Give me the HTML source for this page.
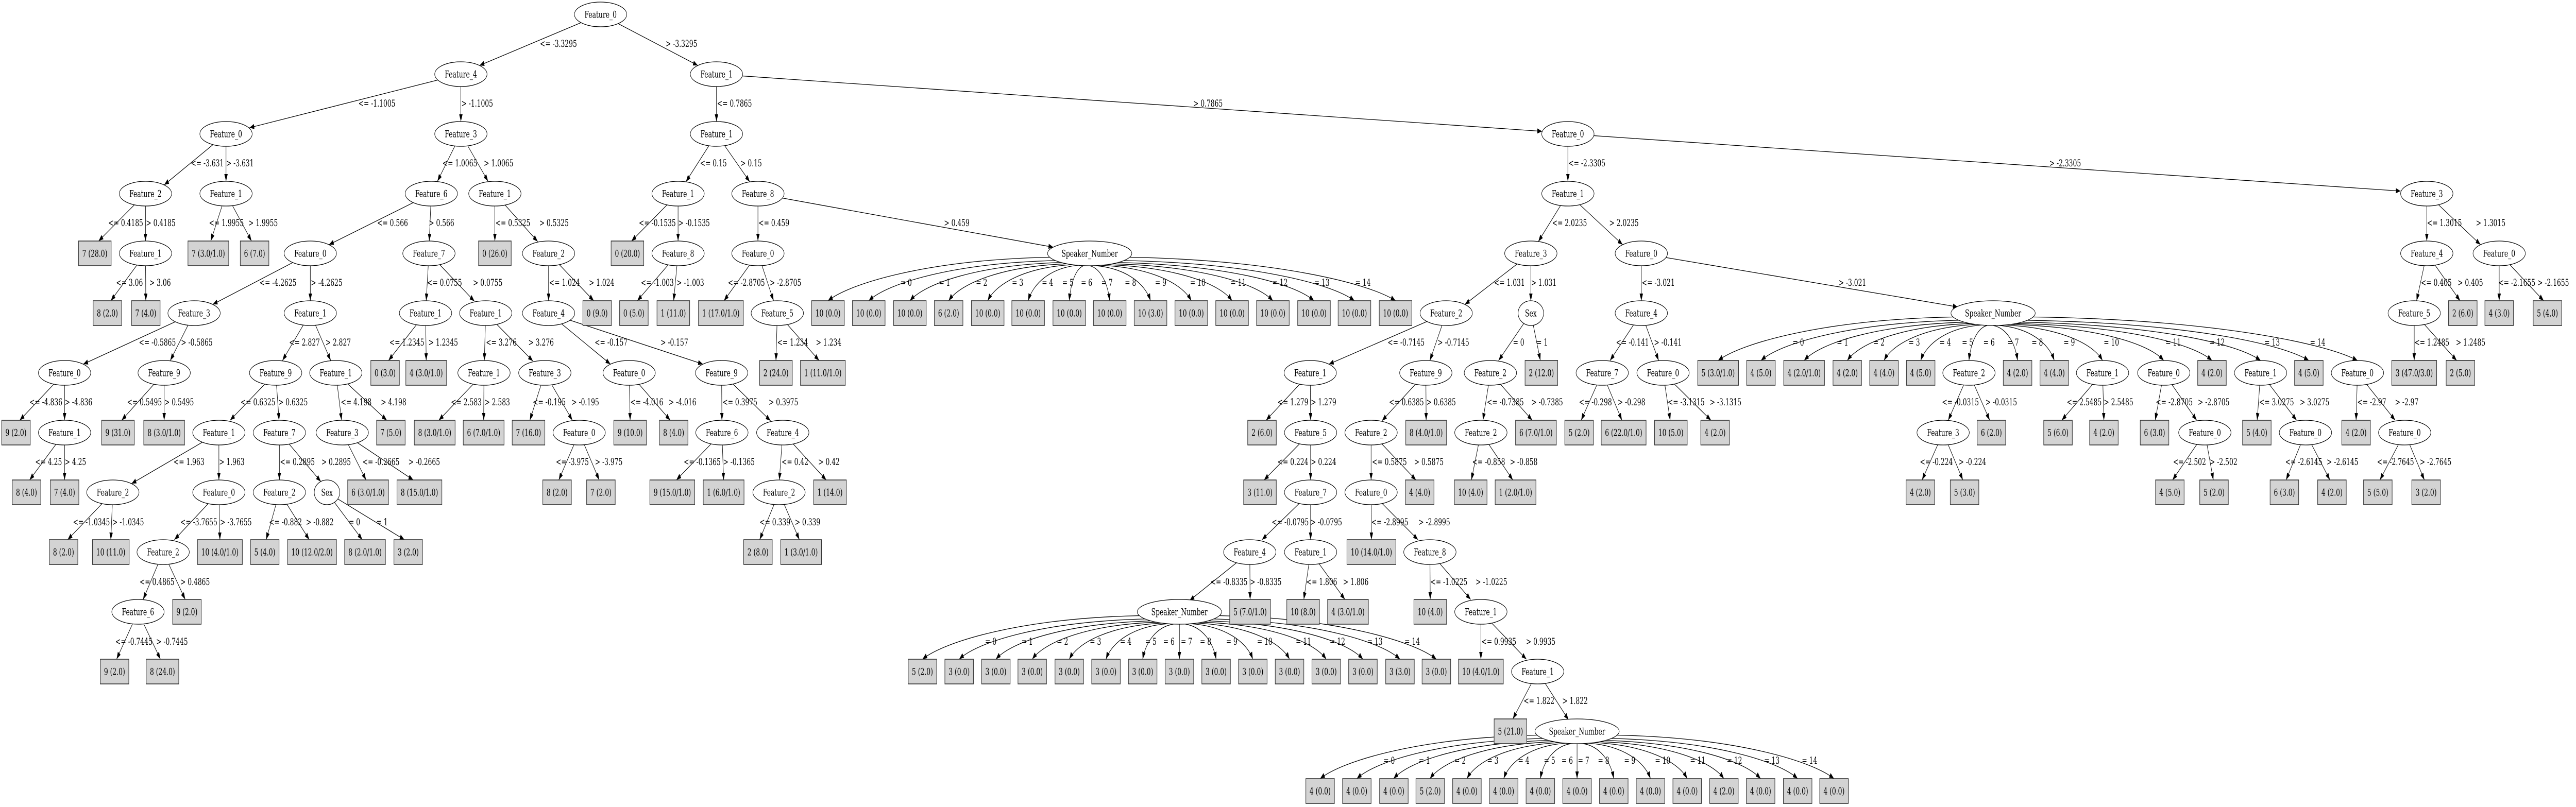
<!DOCTYPE html>
<html><head><meta charset="utf-8"><style>
html,body{margin:0;padding:0;background:#fff;width:100%;height:100%;overflow:hidden;}
svg{display:block;width:100vw;height:100vh;}
text{font-family:"DejaVu Serif","Liberation Serif",serif;font-size:18.67px;fill:#000;}
.e{fill:none;stroke:#000;stroke-width:1.3;marker-end:url(#ah);}
.n{fill:#fff;stroke:#000;stroke-width:1.3;}
.l{fill:#d3d3d3;stroke:#333;stroke-width:1.6;}
</style></head><body>
<svg viewBox="0 0 7579 1567" preserveAspectRatio="none" xmlns="http://www.w3.org/2000/svg">
<defs><marker id="ah" viewBox="0 0 14 10" refX="14" refY="5" markerWidth="14" markerHeight="10" markerUnits="userSpaceOnUse" orient="auto"><path d="M0,0 L14,5 L0,10 z" fill="#000"/></marker></defs>
<rect width="7579" height="1567" fill="#fff"/>
<g>
<path class="e" d="M1767,28 L1411,127"/><path class="e" d="M1767,28 L2053,127"/>
<path class="e" d="M1356,144 L734,248"/><path class="e" d="M1356,144 L1356,236"/>
<path class="e" d="M2108,144 L2108,236"/><path class="e" d="M2108,144 L4537,255"/>
<path class="e" d="M665,260 L483,359"/><path class="e" d="M665,260 L665,352"/>
<path class="e" d="M1356,260 L1287,352"/><path class="e" d="M1356,260 L1436,352"/>
<path class="e" d="M2108,260 L2018,353"/><path class="e" d="M2108,260 L2206,353"/>
<path class="e" d="M4613,260 L4613,352"/><path class="e" d="M4613,260 L7063,371"/>
<path class="e" d="M428,376 L290,468"/><path class="e" d="M428,376 L428,468"/>
<path class="e" d="M665,376 L620,468"/><path class="e" d="M665,376 L740,468"/>
<path class="e" d="M1269,376 L968,475"/><path class="e" d="M1269,376 L1263,468"/>
<path class="e" d="M1456,376 L1456,468"/><path class="e" d="M1456,376 L1582,469"/>
<path class="e" d="M1995,376 L1858,468"/><path class="e" d="M1995,376 L1995,468"/>
<path class="e" d="M2230,376 L2230,468"/><path class="e" d="M2230,376 L3099,480"/>
<path class="e" d="M4613,376 L4526,469"/><path class="e" d="M4613,376 L4774,475"/>
<path class="e" d="M7140,376 L7140,468"/><path class="e" d="M7140,376 L7298,475"/>
<path class="e" d="M428,492 L326,584"/><path class="e" d="M428,492 L429,584"/>
<path class="e" d="M913,492 L626,591"/><path class="e" d="M913,492 L913,584"/>
<path class="e" d="M1262,492 L1254,584"/><path class="e" d="M1262,492 L1396,585"/>
<path class="e" d="M1614,492 L1614,584"/><path class="e" d="M1614,492 L1747,584"/>
<path class="e" d="M1995,492 L1875,584"/><path class="e" d="M1995,492 L1982,584"/>
<path class="e" d="M2230,492 L2130,584"/><path class="e" d="M2230,492 L2276,584"/>
<path class="e" d="M4504,492 L4310,591"/><path class="e" d="M4504,492 L4504,584"/>
<path class="e" d="M4829,492 L4829,584"/><path class="e" d="M4829,492 L5760,596"/>
<path class="e" d="M7140,492 L7110,584"/><path class="e" d="M7140,492 L7238,584"/>
<path class="e" d="M7353,492 L7353,584"/><path class="e" d="M7353,492 L7484,584"/>
<path class="e" d="M571,608 L245,707"/><path class="e" d="M571,608 L501,700"/>
<path class="e" d="M913,608 L831,700"/><path class="e" d="M913,608 L973,700"/>
<path class="e" d="M1252,608 L1143,700"/><path class="e" d="M1252,608 L1254,700"/>
<path class="e" d="M1429,608 L1425,700"/><path class="e" d="M1429,608 L1568,701"/>
<path class="e" d="M1614,608 L1796,707"/><path class="e" d="M1614,608 L2068,707"/>
<path class="e" d="M2287,608 L2283,700"/><path class="e" d="M2287,608 L2410,700"/>
<path class="e" d="M4255,608 L3910,707"/><path class="e" d="M4255,608 L4207,700"/>
<path class="e" d="M4504,608 L4409,700"/><path class="e" d="M4504,608 L4532,700"/>
<path class="e" d="M4829,608 L4737,700"/><path class="e" d="M4829,608 L4880,700"/>
<path class="e" d="M7103,608 L7103,700"/><path class="e" d="M7103,608 L7228,700"/>
<path class="e" d="M190,724 L58,816"/><path class="e" d="M190,724 L190,816"/>
<path class="e" d="M483,724 L358,816"/><path class="e" d="M483,724 L483,816"/>
<path class="e" d="M811,724 L677,816"/><path class="e" d="M811,724 L821,816"/>
<path class="e" d="M988,724 L1005,816"/><path class="e" d="M988,724 L1138,816"/>
<path class="e" d="M1424,724 L1291,816"/><path class="e" d="M1424,724 L1423,816"/>
<path class="e" d="M1603,724 L1559,816"/><path class="e" d="M1603,724 L1684,816"/>
<path class="e" d="M1851,724 L1854,816"/><path class="e" d="M1851,724 L1972,816"/>
<path class="e" d="M2123,724 L2124,816"/><path class="e" d="M2123,724 L2267,817"/>
<path class="e" d="M3855,724 L3725,816"/><path class="e" d="M3855,724 L3856,816"/>
<path class="e" d="M4195,724 L4066,817"/><path class="e" d="M4195,724 L4196,816"/>
<path class="e" d="M4385,724 L4363,816"/><path class="e" d="M4385,724 L4508,816"/>
<path class="e" d="M4714,724 L4652,816"/><path class="e" d="M4714,724 L4772,816"/>
<path class="e" d="M4893,724 L4914,816"/><path class="e" d="M4893,724 L5034,816"/>
<path class="e" d="M5793,724 L5732,816"/><path class="e" d="M5793,724 L5854,816"/>
<path class="e" d="M6186,724 L6066,816"/><path class="e" d="M6186,724 L6190,816"/>
<path class="e" d="M6366,724 L6341,816"/><path class="e" d="M6366,724 L6463,816"/>
<path class="e" d="M6651,724 L6641,816"/><path class="e" d="M6651,724 L6757,816"/>
<path class="e" d="M6936,724 L6932,816"/><path class="e" d="M6936,724 L7047,816"/>
<path class="e" d="M190,840 L87,932"/><path class="e" d="M190,840 L190,932"/>
<path class="e" d="M644,840 L387,939"/><path class="e" d="M644,840 L644,932"/>
<path class="e" d="M822,840 L822,932"/><path class="e" d="M822,840 L944,935"/>
<path class="e" d="M1007,840 L1077,932"/><path class="e" d="M1007,840 L1216,932"/>
<path class="e" d="M1704,840 L1644,932"/><path class="e" d="M1704,840 L1763,932"/>
<path class="e" d="M2124,840 L1990,932"/><path class="e" d="M2124,840 L2129,932"/>
<path class="e" d="M2303,840 L2293,932"/><path class="e" d="M2303,840 L2431,932"/>
<path class="e" d="M3856,840 L3719,932"/><path class="e" d="M3856,840 L3856,932"/>
<path class="e" d="M4034,840 L4034,932"/><path class="e" d="M4034,840 L4166,932"/>
<path class="e" d="M4357,840 L4329,932"/><path class="e" d="M4357,840 L4451,932"/>
<path class="e" d="M5717,840 L5655,932"/><path class="e" d="M5717,840 L5775,932"/>
<path class="e" d="M6487,840 L6392,932"/><path class="e" d="M6487,840 L6512,932"/>
<path class="e" d="M6783,840 L6726,932"/><path class="e" d="M6783,840 L6855,932"/>
<path class="e" d="M7075,840 L7002,932"/><path class="e" d="M7075,840 L7133,932"/>
<path class="e" d="M332,956 L199,1048"/><path class="e" d="M332,956 L326,1048"/>
<path class="e" d="M644,956 L513,1048"/><path class="e" d="M644,956 L647,1048"/>
<path class="e" d="M822,956 L783,1048"/><path class="e" d="M822,956 L910,1048"/>
<path class="e" d="M962,956 L1066,1048"/><path class="e" d="M962,956 L1190,1048"/>
<path class="e" d="M2292,956 L2235,1048"/><path class="e" d="M2292,956 L2352,1048"/>
<path class="e" d="M3856,956 L3713,1048"/><path class="e" d="M3856,956 L3856,1048"/>
<path class="e" d="M4034,956 L4035,1048"/><path class="e" d="M4034,956 L4172,1048"/>
<path class="e" d="M480,1072 L421,1164"/><path class="e" d="M480,1072 L545,1164"/>
<path class="e" d="M3677,1072 L3500,1166"/><path class="e" d="M3677,1072 L3678,1164"/>
<path class="e" d="M3856,1072 L3836,1164"/><path class="e" d="M3856,1072 L3957,1164"/>
<path class="e" d="M4207,1072 L4208,1164"/><path class="e" d="M4207,1072 L4327,1164"/>
<path class="e" d="M406,1188 L343,1280"/><path class="e" d="M406,1188 L472,1280"/>
<path class="e" d="M4357,1188 L4357,1280"/><path class="e" d="M4357,1188 L4491,1280"/>
<path class="e" d="M4524,1304 L4451,1396"/><path class="e" d="M4524,1304 L4615,1398"/>
</g>
<g>
<path class="e" d="M3088,499.5 C2729,504.5 2501,550 2436,584"/>
<path class="e" d="M3105,505.9 C2803,511 2611,550 2556,584"/>
<path class="e" d="M3122,509.6 C2877,515 2722,550 2677,584"/>
<path class="e" d="M3139,512.2 C2948,517 2826,550 2791,584"/>
<path class="e" d="M3156,513.9 C3018,519 2931,550 2906,584"/>
<path class="e" d="M3172,515.1 C3091,520 3040,550 3025,584"/>
<path class="e" d="M3189,515.8 C3165,521 3150,550 3146,584"/>
<path class="e" d="M3206,516 C3238,521 3259,550 3265,584"/>
<path class="e" d="M3223,515.8 C3312,521 3369,550 3385,584"/>
<path class="e" d="M3240,515.1 C3386,520 3478,550 3505,584"/>
<path class="e" d="M3256,513.9 C3459,519 3588,550 3625,584"/>
<path class="e" d="M3273,512.2 C3533,517 3698,550 3745,584"/>
<path class="e" d="M3290,509.6 C3607,515 3808,550 3866,584"/>
<path class="e" d="M3307,505.9 C3680,511 3917,550 3985,584"/>
<path class="e" d="M3324,499.5 C3754,505 4028,550 4106,584"/>
</g>
<g>
<path class="e" d="M5746,615.5 C5366,620.5 5124,666 5055,700"/>
<path class="e" d="M5763,621.9 C5443,627 5239,666 5181,700"/>
<path class="e" d="M5780,625.6 C5520,631 5355,666 5308,700"/>
<path class="e" d="M5797,628.2 C5598,633 5471,666 5435,700"/>
<path class="e" d="M5814,629.9 C5665,635 5570,666 5543,700"/>
<path class="e" d="M5830,631.1 C5732,636 5669,666 5651,700"/>
<path class="e" d="M5847,631.8 C5817,637 5798,666 5793,700"/>
<path class="e" d="M5864,632 C5904,637 5929,666 5936,700"/>
<path class="e" d="M5881,631.8 C5971,637 6028,666 6044,700"/>
<path class="e" d="M5898,631.1 C6056,636 6157,666 6186,700"/>
<path class="e" d="M5914,629.9 C6163,635 6321,666 6366,700"/>
<path class="e" d="M5931,628.2 C6248,633 6450,666 6508,700"/>
<path class="e" d="M5948,625.6 C6335,631 6581,666 6651,700"/>
<path class="e" d="M5965,621.9 C6420,627 6710,666 6793,700"/>
<path class="e" d="M5982,615.5 C6507,620.5 6841,666 6936,700"/>
</g>
<g>
<path class="e" d="M3352,1195.5 C3001,1200.5 2778,1246 2714,1280"/>
<path class="e" d="M3369,1201.9 C3068,1207 2877,1246 2822,1280"/>
<path class="e" d="M3386,1205.6 C3135,1211 2976,1246 2930,1280"/>
<path class="e" d="M3403,1208.2 C3202,1213 3074,1246 3037,1280"/>
<path class="e" d="M3420,1209.9 C3269,1215 3173,1246 3146,1280"/>
<path class="e" d="M3436,1211.1 C3336,1216 3272,1246 3254,1280"/>
<path class="e" d="M3453,1211.8 C3403,1217 3371,1246 3362,1280"/>
<path class="e" d="M3470,1212 L3470,1280"/>
<path class="e" d="M3487,1211.8 C3537,1217 3569,1246 3578,1280"/>
<path class="e" d="M3504,1211.1 C3604,1216 3668,1246 3686,1280"/>
<path class="e" d="M3520,1209.9 C3671,1215 3767,1246 3794,1280"/>
<path class="e" d="M3537,1208.2 C3738,1213 3866,1246 3902,1280"/>
<path class="e" d="M3554,1205.6 C3805,1211 3964,1246 4010,1280"/>
<path class="e" d="M3571,1201.9 C3872,1207 4064,1246 4119,1280"/>
<path class="e" d="M3588,1195.5 C3939,1200.5 4162,1246 4226,1280"/>
</g>
<g transform="translate(1170,232)">
<path class="e" d="M3352,1195.5 C3001,1200.5 2778,1246 2714,1280"/>
<path class="e" d="M3369,1201.9 C3068,1207 2877,1246 2822,1280"/>
<path class="e" d="M3386,1205.6 C3135,1211 2976,1246 2930,1280"/>
<path class="e" d="M3403,1208.2 C3202,1213 3074,1246 3037,1280"/>
<path class="e" d="M3420,1209.9 C3269,1215 3173,1246 3146,1280"/>
<path class="e" d="M3436,1211.1 C3336,1216 3272,1246 3254,1280"/>
<path class="e" d="M3453,1211.8 C3403,1217 3371,1246 3362,1280"/>
<path class="e" d="M3470,1212 L3470,1280"/>
<path class="e" d="M3487,1211.8 C3537,1217 3569,1246 3578,1280"/>
<path class="e" d="M3504,1211.1 C3604,1216 3668,1246 3686,1280"/>
<path class="e" d="M3520,1209.9 C3671,1215 3767,1246 3794,1280"/>
<path class="e" d="M3537,1208.2 C3738,1213 3866,1246 3902,1280"/>
<path class="e" d="M3554,1205.6 C3805,1211 3964,1246 4010,1280"/>
<path class="e" d="M3571,1201.9 C3872,1207 4064,1246 4119,1280"/>
<path class="e" d="M3588,1195.5 C3939,1200.5 4162,1246 4226,1280"/>
</g>

<g class="n">
<ellipse cx="1767" cy="28" rx="77" ry="24"/>
<ellipse cx="1356" cy="144" rx="77" ry="24"/><ellipse cx="2108" cy="144" rx="77" ry="24"/>
<ellipse cx="665" cy="260" rx="77" ry="24"/><ellipse cx="1356" cy="260" rx="77" ry="24"/><ellipse cx="2108" cy="260" rx="77" ry="24"/><ellipse cx="4613" cy="260" rx="77" ry="24"/>
<ellipse cx="428" cy="376" rx="77" ry="24"/><ellipse cx="665" cy="376" rx="77" ry="24"/><ellipse cx="1269" cy="376" rx="77" ry="24"/><ellipse cx="1456" cy="376" rx="77" ry="24"/><ellipse cx="1995" cy="376" rx="77" ry="24"/><ellipse cx="2230" cy="376" rx="77" ry="24"/><ellipse cx="4613" cy="376" rx="77" ry="24"/><ellipse cx="7140" cy="376" rx="77" ry="24"/>
<ellipse cx="428" cy="492" rx="77" ry="24"/><ellipse cx="913" cy="492" rx="77" ry="24"/><ellipse cx="1262" cy="492" rx="77" ry="24"/><ellipse cx="1614" cy="492" rx="77" ry="24"/><ellipse cx="1995" cy="492" rx="77" ry="24"/><ellipse cx="2230" cy="492" rx="77" ry="24"/><ellipse cx="3206" cy="492" rx="124" ry="24"/><ellipse cx="4504" cy="492" rx="77" ry="24"/><ellipse cx="4829" cy="492" rx="77" ry="24"/><ellipse cx="7140" cy="492" rx="77" ry="24"/><ellipse cx="7353" cy="492" rx="77" ry="24"/>
<ellipse cx="571" cy="608" rx="77" ry="24"/><ellipse cx="913" cy="608" rx="77" ry="24"/><ellipse cx="1252" cy="608" rx="77" ry="24"/><ellipse cx="1429" cy="608" rx="77" ry="24"/><ellipse cx="1614" cy="608" rx="77" ry="24"/><ellipse cx="2287" cy="608" rx="77" ry="24"/><ellipse cx="4255" cy="608" rx="77" ry="24"/><ellipse cx="4504" cy="608" rx="37.5" ry="24"/><ellipse cx="4829" cy="608" rx="77" ry="24"/><ellipse cx="5864" cy="608" rx="124" ry="24"/><ellipse cx="7103" cy="608" rx="77" ry="24"/>
<ellipse cx="190" cy="724" rx="77" ry="24"/><ellipse cx="483" cy="724" rx="77" ry="24"/><ellipse cx="811" cy="724" rx="77" ry="24"/><ellipse cx="988" cy="724" rx="77" ry="24"/><ellipse cx="1424" cy="724" rx="77" ry="24"/><ellipse cx="1603" cy="724" rx="77" ry="24"/><ellipse cx="1851" cy="724" rx="77" ry="24"/><ellipse cx="2123" cy="724" rx="77" ry="24"/><ellipse cx="3855" cy="724" rx="77" ry="24"/><ellipse cx="4195" cy="724" rx="77" ry="24"/><ellipse cx="4385" cy="724" rx="77" ry="24"/><ellipse cx="4714" cy="724" rx="77" ry="24"/><ellipse cx="4893" cy="724" rx="77" ry="24"/><ellipse cx="5793" cy="724" rx="77" ry="24"/><ellipse cx="6186" cy="724" rx="77" ry="24"/><ellipse cx="6366" cy="724" rx="77" ry="24"/><ellipse cx="6651" cy="724" rx="77" ry="24"/><ellipse cx="6936" cy="724" rx="77" ry="24"/>
<ellipse cx="190" cy="840" rx="77" ry="24"/><ellipse cx="644" cy="840" rx="77" ry="24"/><ellipse cx="822" cy="840" rx="77" ry="24"/><ellipse cx="1007" cy="840" rx="77" ry="24"/><ellipse cx="1704" cy="840" rx="77" ry="24"/><ellipse cx="2124" cy="840" rx="77" ry="24"/><ellipse cx="2303" cy="840" rx="77" ry="24"/><ellipse cx="3856" cy="840" rx="77" ry="24"/><ellipse cx="4034" cy="840" rx="77" ry="24"/><ellipse cx="4357" cy="840" rx="77" ry="24"/><ellipse cx="5717" cy="840" rx="77" ry="24"/><ellipse cx="6487" cy="840" rx="77" ry="24"/><ellipse cx="6783" cy="840" rx="77" ry="24"/><ellipse cx="7075" cy="840" rx="77" ry="24"/>
<ellipse cx="332" cy="956" rx="77" ry="24"/><ellipse cx="644" cy="956" rx="77" ry="24"/><ellipse cx="822" cy="956" rx="77" ry="24"/><ellipse cx="962" cy="956" rx="37.5" ry="24"/><ellipse cx="2292" cy="956" rx="77" ry="24"/><ellipse cx="3856" cy="956" rx="77" ry="24"/><ellipse cx="4034" cy="956" rx="77" ry="24"/>
<ellipse cx="480" cy="1072" rx="77" ry="24"/><ellipse cx="3677" cy="1072" rx="77" ry="24"/><ellipse cx="3856" cy="1072" rx="77" ry="24"/><ellipse cx="4207" cy="1072" rx="77" ry="24"/>
<ellipse cx="406" cy="1188" rx="77" ry="24"/><ellipse cx="3470" cy="1188" rx="124" ry="24"/><ellipse cx="4357" cy="1188" rx="77" ry="24"/>
<ellipse cx="4524" cy="1304" rx="77" ry="24"/>
<ellipse cx="4640" cy="1420" rx="124" ry="24"/>
</g>
<g text-anchor="middle">
<text x="1767" y="34.5">Feature_0</text>
<text x="1356" y="150.5">Feature_4</text><text x="2108" y="150.5">Feature_1</text>
<text x="665" y="266.5">Feature_0</text><text x="1356" y="266.5">Feature_3</text><text x="2108" y="266.5">Feature_1</text><text x="4613" y="266.5">Feature_0</text>
<text x="428" y="382.5">Feature_2</text><text x="665" y="382.5">Feature_1</text><text x="1269" y="382.5">Feature_6</text><text x="1456" y="382.5">Feature_1</text><text x="1995" y="382.5">Feature_1</text><text x="2230" y="382.5">Feature_8</text><text x="4613" y="382.5">Feature_1</text><text x="7140" y="382.5">Feature_3</text>
<text x="428" y="498.5">Feature_1</text><text x="913" y="498.5">Feature_0</text><text x="1262" y="498.5">Feature_7</text><text x="1614" y="498.5">Feature_2</text><text x="1995" y="498.5">Feature_8</text><text x="2230" y="498.5">Feature_0</text><text x="3206" y="498.5">Speaker_Number</text><text x="4504" y="498.5">Feature_3</text><text x="4829" y="498.5">Feature_0</text><text x="7140" y="498.5">Feature_4</text><text x="7353" y="498.5">Feature_0</text>
<text x="571" y="614.5">Feature_3</text><text x="913" y="614.5">Feature_1</text><text x="1252" y="614.5">Feature_1</text><text x="1429" y="614.5">Feature_1</text><text x="1614" y="614.5">Feature_4</text><text x="2287" y="614.5">Feature_5</text><text x="4255" y="614.5">Feature_2</text><text x="4504" y="614.5">Sex</text><text x="4829" y="614.5">Feature_4</text><text x="5864" y="614.5">Speaker_Number</text><text x="7103" y="614.5">Feature_5</text>
<text x="190" y="730.5">Feature_0</text><text x="483" y="730.5">Feature_9</text><text x="811" y="730.5">Feature_9</text><text x="988" y="730.5">Feature_1</text><text x="1424" y="730.5">Feature_1</text><text x="1603" y="730.5">Feature_3</text><text x="1851" y="730.5">Feature_0</text><text x="2123" y="730.5">Feature_9</text><text x="3855" y="730.5">Feature_1</text><text x="4195" y="730.5">Feature_9</text><text x="4385" y="730.5">Feature_2</text><text x="4714" y="730.5">Feature_7</text><text x="4893" y="730.5">Feature_0</text><text x="5793" y="730.5">Feature_2</text><text x="6186" y="730.5">Feature_1</text><text x="6366" y="730.5">Feature_0</text><text x="6651" y="730.5">Feature_1</text><text x="6936" y="730.5">Feature_0</text>
<text x="190" y="846.5">Feature_1</text><text x="644" y="846.5">Feature_1</text><text x="822" y="846.5">Feature_7</text><text x="1007" y="846.5">Feature_3</text><text x="1704" y="846.5">Feature_0</text><text x="2124" y="846.5">Feature_6</text><text x="2303" y="846.5">Feature_4</text><text x="3856" y="846.5">Feature_5</text><text x="4034" y="846.5">Feature_2</text><text x="4357" y="846.5">Feature_2</text><text x="5717" y="846.5">Feature_3</text><text x="6487" y="846.5">Feature_0</text><text x="6783" y="846.5">Feature_0</text><text x="7075" y="846.5">Feature_0</text>
<text x="332" y="962.5">Feature_2</text><text x="644" y="962.5">Feature_0</text><text x="822" y="962.5">Feature_2</text><text x="962" y="962.5">Sex</text><text x="2292" y="962.5">Feature_2</text><text x="3856" y="962.5">Feature_7</text><text x="4034" y="962.5">Feature_0</text>
<text x="480" y="1078.5">Feature_2</text><text x="3677" y="1078.5">Feature_4</text><text x="3856" y="1078.5">Feature_1</text><text x="4207" y="1078.5">Feature_8</text>
<text x="406" y="1194.5">Feature_6</text><text x="3470" y="1194.5">Speaker_Number</text><text x="4357" y="1194.5">Feature_1</text>
<text x="4524" y="1310.5">Feature_1</text>
<text x="4640" y="1426.5">Speaker_Number</text>
</g>

<g class="l">
<rect x="231" y="468" width="96" height="48"/><rect x="553" y="468" width="120" height="48"/><rect x="707" y="468" width="84" height="48"/><rect x="1408" y="468" width="96" height="48"/><rect x="1798" y="468" width="96" height="48"/>
<rect x="274" y="584" width="84" height="48"/><rect x="387" y="584" width="84" height="48"/><rect x="1715" y="584" width="84" height="48"/><rect x="1823" y="584" width="84" height="48"/><rect x="1933" y="584" width="96" height="48"/><rect x="2055" y="584" width="132" height="48"/><rect x="7204" y="584" width="84" height="48"/><rect x="7311" y="584" width="84" height="48"/><rect x="7453" y="584" width="84" height="48"/>
<rect x="2388" y="584" width="96" height="48"/><rect x="2508" y="584" width="96" height="48"/><rect x="2629" y="584" width="96" height="48"/><rect x="2749" y="584" width="84" height="48"/><rect x="2858" y="584" width="96" height="48"/><rect x="2977" y="584" width="96" height="48"/><rect x="3098" y="584" width="96" height="48"/><rect x="3217" y="584" width="96" height="48"/><rect x="3337" y="584" width="96" height="48"/><rect x="3457" y="584" width="96" height="48"/><rect x="3577" y="584" width="96" height="48"/><rect x="3697" y="584" width="96" height="48"/><rect x="3818" y="584" width="96" height="48"/><rect x="3937" y="584" width="96" height="48"/><rect x="4058" y="584" width="96" height="48"/>
<rect x="1091" y="700" width="84" height="48"/><rect x="1194" y="700" width="120" height="48"/><rect x="2235" y="700" width="96" height="48"/><rect x="2355" y="700" width="132" height="48"/><rect x="4487" y="700" width="96" height="48"/><rect x="7037" y="700" width="132" height="48"/><rect x="7197" y="700" width="84" height="48"/>
<rect x="4995" y="700" width="120" height="48"/><rect x="5139" y="700" width="84" height="48"/><rect x="5248" y="700" width="120" height="48"/><rect x="5393" y="700" width="84" height="48"/><rect x="5501" y="700" width="84" height="48"/><rect x="5609" y="700" width="84" height="48"/><rect x="5894" y="700" width="84" height="48"/><rect x="6002" y="700" width="84" height="48"/><rect x="6466" y="700" width="84" height="48"/><rect x="6751" y="700" width="84" height="48"/>
<rect x="5" y="816" width="84" height="48"/><rect x="299" y="816" width="96" height="48"/><rect x="423" y="816" width="120" height="48"/><rect x="1108" y="816" width="84" height="48"/><rect x="1219" y="816" width="120" height="48"/><rect x="1363" y="816" width="120" height="48"/><rect x="1507" y="816" width="96" height="48"/><rect x="1806" y="816" width="96" height="48"/><rect x="1940" y="816" width="84" height="48"/><rect x="3671" y="816" width="84" height="48"/><rect x="4136" y="816" width="120" height="48"/><rect x="4459" y="816" width="120" height="48"/><rect x="4604" y="816" width="84" height="48"/><rect x="4711" y="816" width="132" height="48"/><rect x="4868" y="816" width="96" height="48"/><rect x="5004" y="816" width="84" height="48"/><rect x="5817" y="816" width="84" height="48"/><rect x="6013" y="816" width="84" height="48"/><rect x="6148" y="816" width="84" height="48"/><rect x="6297" y="816" width="84" height="48"/><rect x="6598" y="816" width="84" height="48"/><rect x="6890" y="816" width="84" height="48"/>
<rect x="36" y="932" width="84" height="48"/><rect x="148" y="932" width="84" height="48"/><rect x="1023" y="932" width="120" height="48"/><rect x="1168" y="932" width="132" height="48"/><rect x="1597" y="932" width="84" height="48"/><rect x="1726" y="932" width="84" height="48"/><rect x="1912" y="932" width="132" height="48"/><rect x="2069" y="932" width="120" height="48"/><rect x="2394" y="932" width="96" height="48"/><rect x="3659" y="932" width="96" height="48"/><rect x="4135" y="932" width="84" height="48"/><rect x="4279" y="932" width="96" height="48"/><rect x="4399" y="932" width="120" height="48"/><rect x="5608" y="932" width="84" height="48"/><rect x="5738" y="932" width="84" height="48"/><rect x="6342" y="932" width="84" height="48"/><rect x="6472" y="932" width="84" height="48"/><rect x="6679" y="932" width="84" height="48"/><rect x="6819" y="932" width="84" height="48"/><rect x="6954" y="932" width="84" height="48"/><rect x="7096" y="932" width="84" height="48"/>
<rect x="145" y="1048" width="84" height="48"/><rect x="272" y="1048" width="108" height="48"/><rect x="581" y="1048" width="132" height="48"/><rect x="737" y="1048" width="84" height="48"/><rect x="846" y="1048" width="144" height="48"/><rect x="1014" y="1048" width="120" height="48"/><rect x="1159" y="1048" width="84" height="48"/><rect x="2188" y="1048" width="84" height="48"/><rect x="2297" y="1048" width="120" height="48"/><rect x="3963" y="1048" width="144" height="48"/>
<rect x="508" y="1164" width="84" height="48"/><rect x="3618" y="1164" width="120" height="48"/><rect x="3786" y="1164" width="96" height="48"/><rect x="3906" y="1164" width="120" height="48"/><rect x="4160" y="1164" width="96" height="48"/>
<rect x="295" y="1280" width="84" height="48"/><rect x="430" y="1280" width="96" height="48"/><rect x="4291" y="1280" width="132" height="48"/>
<rect x="2672" y="1280" width="84" height="48"/><rect x="2780" y="1280" width="84" height="48"/><rect x="2888" y="1280" width="84" height="48"/><rect x="2995" y="1280" width="84" height="48"/><rect x="3104" y="1280" width="84" height="48"/><rect x="3212" y="1280" width="84" height="48"/><rect x="3320" y="1280" width="84" height="48"/><rect x="3428" y="1280" width="84" height="48"/><rect x="3536" y="1280" width="84" height="48"/><rect x="3644" y="1280" width="84" height="48"/><rect x="3752" y="1280" width="84" height="48"/><rect x="3860" y="1280" width="84" height="48"/><rect x="3968" y="1280" width="84" height="48"/><rect x="4077" y="1280" width="84" height="48"/><rect x="4184" y="1280" width="84" height="48"/>
<rect x="4396" y="1396" width="96" height="48"/>
<rect x="3842" y="1512" width="84" height="48"/><rect x="3950" y="1512" width="84" height="48"/><rect x="4059" y="1512" width="84" height="48"/><rect x="4166" y="1512" width="84" height="48"/><rect x="4274" y="1512" width="84" height="48"/><rect x="4382" y="1512" width="84" height="48"/><rect x="4490" y="1512" width="84" height="48"/><rect x="4598" y="1512" width="84" height="48"/><rect x="4706" y="1512" width="84" height="48"/><rect x="4814" y="1512" width="84" height="48"/><rect x="4922" y="1512" width="84" height="48"/><rect x="5030" y="1512" width="84" height="48"/><rect x="5138" y="1512" width="84" height="48"/><rect x="5247" y="1512" width="84" height="48"/><rect x="5354" y="1512" width="84" height="48"/>
</g>
<g text-anchor="middle">
<text x="279" y="498.5">7 (28.0)</text><text x="613" y="498.5">7 (3.0/1.0)</text><text x="749" y="498.5">6 (7.0)</text><text x="1456" y="498.5">0 (26.0)</text><text x="1846" y="498.5">0 (20.0)</text>
<text x="316" y="614.5">8 (2.0)</text><text x="429" y="614.5">7 (4.0)</text><text x="1757" y="614.5">0 (9.0)</text><text x="1865" y="614.5">0 (5.0)</text><text x="1981" y="614.5">1 (11.0)</text><text x="2121" y="614.5">1 (17.0/1.0)</text><text x="7246" y="614.5">2 (6.0)</text><text x="7353" y="614.5">4 (3.0)</text><text x="7495" y="614.5">5 (4.0)</text>
<text x="2436" y="614.5">10 (0.0)</text><text x="2556" y="614.5">10 (0.0)</text><text x="2677" y="614.5">10 (0.0)</text><text x="2791" y="614.5">6 (2.0)</text><text x="2906" y="614.5">10 (0.0)</text><text x="3025" y="614.5">10 (0.0)</text><text x="3146" y="614.5">10 (0.0)</text><text x="3265" y="614.5">10 (0.0)</text><text x="3385" y="614.5">10 (3.0)</text><text x="3505" y="614.5">10 (0.0)</text><text x="3625" y="614.5">10 (0.0)</text><text x="3745" y="614.5">10 (0.0)</text><text x="3866" y="614.5">10 (0.0)</text><text x="3985" y="614.5">10 (0.0)</text><text x="4106" y="614.5">10 (0.0)</text>
<text x="1133" y="730.5">0 (3.0)</text><text x="1254" y="730.5">4 (3.0/1.0)</text><text x="2283" y="730.5">2 (24.0)</text><text x="2421" y="730.5">1 (11.0/1.0)</text><text x="4535" y="730.5">2 (12.0)</text><text x="7103" y="730.5">3 (47.0/3.0)</text><text x="7239" y="730.5">2 (5.0)</text>
<text x="5055" y="730.5">5 (3.0/1.0)</text><text x="5181" y="730.5">4 (5.0)</text><text x="5308" y="730.5">4 (2.0/1.0)</text><text x="5435" y="730.5">4 (2.0)</text><text x="5543" y="730.5">4 (4.0)</text><text x="5651" y="730.5">4 (5.0)</text><text x="5936" y="730.5">4 (2.0)</text><text x="6044" y="730.5">4 (4.0)</text><text x="6508" y="730.5">4 (2.0)</text><text x="6793" y="730.5">4 (5.0)</text>
<text x="47" y="846.5">9 (2.0)</text><text x="347" y="846.5">9 (31.0)</text><text x="483" y="846.5">8 (3.0/1.0)</text><text x="1150" y="846.5">7 (5.0)</text><text x="1279" y="846.5">8 (3.0/1.0)</text><text x="1423" y="846.5">6 (7.0/1.0)</text><text x="1555" y="846.5">7 (16.0)</text><text x="1854" y="846.5">9 (10.0)</text><text x="1982" y="846.5">8 (4.0)</text><text x="3713" y="846.5">2 (6.0)</text><text x="4196" y="846.5">8 (4.0/1.0)</text><text x="4519" y="846.5">6 (7.0/1.0)</text><text x="4646" y="846.5">5 (2.0)</text><text x="4777" y="846.5">6 (22.0/1.0)</text><text x="4916" y="846.5">10 (5.0)</text><text x="5046" y="846.5">4 (2.0)</text><text x="5859" y="846.5">6 (2.0)</text><text x="6055" y="846.5">5 (6.0)</text><text x="6190" y="846.5">4 (2.0)</text><text x="6339" y="846.5">6 (3.0)</text><text x="6640" y="846.5">5 (4.0)</text><text x="6932" y="846.5">4 (2.0)</text>
<text x="78" y="962.5">8 (4.0)</text><text x="190" y="962.5">7 (4.0)</text><text x="1083" y="962.5">6 (3.0/1.0)</text><text x="1234" y="962.5">8 (15.0/1.0)</text><text x="1639" y="962.5">8 (2.0)</text><text x="1768" y="962.5">7 (2.0)</text><text x="1978" y="962.5">9 (15.0/1.0)</text><text x="2129" y="962.5">1 (6.0/1.0)</text><text x="2442" y="962.5">1 (14.0)</text><text x="3707" y="962.5">3 (11.0)</text><text x="4177" y="962.5">4 (4.0)</text><text x="4327" y="962.5">10 (4.0)</text><text x="4459" y="962.5">1 (2.0/1.0)</text><text x="5650" y="962.5">4 (2.0)</text><text x="5780" y="962.5">5 (3.0)</text><text x="6384" y="962.5">4 (5.0)</text><text x="6514" y="962.5">5 (2.0)</text><text x="6721" y="962.5">6 (3.0)</text><text x="6861" y="962.5">4 (2.0)</text><text x="6996" y="962.5">5 (5.0)</text><text x="7138" y="962.5">3 (2.0)</text>
<text x="187" y="1078.5">8 (2.0)</text><text x="326" y="1078.5">10 (11.0)</text><text x="647" y="1078.5">10 (4.0/1.0)</text><text x="779" y="1078.5">5 (4.0)</text><text x="918" y="1078.5">10 (12.0/2.0)</text><text x="1074" y="1078.5">8 (2.0/1.0)</text><text x="1201" y="1078.5">3 (2.0)</text><text x="2230" y="1078.5">2 (8.0)</text><text x="2357" y="1078.5">1 (3.0/1.0)</text><text x="4035" y="1078.5">10 (14.0/1.0)</text>
<text x="550" y="1194.5">9 (2.0)</text><text x="3678" y="1194.5">5 (7.0/1.0)</text><text x="3834" y="1194.5">10 (8.0)</text><text x="3966" y="1194.5">4 (3.0/1.0)</text><text x="4208" y="1194.5">10 (4.0)</text>
<text x="337" y="1310.5">9 (2.0)</text><text x="478" y="1310.5">8 (24.0)</text><text x="4357" y="1310.5">10 (4.0/1.0)</text>
<text x="2714" y="1310.5">5 (2.0)</text><text x="2822" y="1310.5">3 (0.0)</text><text x="2930" y="1310.5">3 (0.0)</text><text x="3037" y="1310.5">3 (0.0)</text><text x="3146" y="1310.5">3 (0.0)</text><text x="3254" y="1310.5">3 (0.0)</text><text x="3362" y="1310.5">3 (0.0)</text><text x="3470" y="1310.5">3 (0.0)</text><text x="3578" y="1310.5">3 (0.0)</text><text x="3686" y="1310.5">3 (0.0)</text><text x="3794" y="1310.5">3 (0.0)</text><text x="3902" y="1310.5">3 (0.0)</text><text x="4010" y="1310.5">3 (0.0)</text><text x="4119" y="1310.5">3 (3.0)</text><text x="4226" y="1310.5">3 (0.0)</text>
<text x="4444" y="1426.5">5 (21.0)</text>
<text x="3884" y="1542.5">4 (0.0)</text><text x="3992" y="1542.5">4 (0.0)</text><text x="4101" y="1542.5">4 (0.0)</text><text x="4208" y="1542.5">5 (2.0)</text><text x="4316" y="1542.5">4 (0.0)</text><text x="4424" y="1542.5">4 (0.0)</text><text x="4532" y="1542.5">4 (0.0)</text><text x="4640" y="1542.5">4 (0.0)</text><text x="4748" y="1542.5">4 (0.0)</text><text x="4856" y="1542.5">4 (0.0)</text><text x="4964" y="1542.5">4 (0.0)</text><text x="5072" y="1542.5">4 (2.0)</text><text x="5180" y="1542.5">4 (0.0)</text><text x="5289" y="1542.5">4 (0.0)</text><text x="5396" y="1542.5">4 (0.0)</text>
</g>

<g text-anchor="middle">
<text x="1643" y="91">&lt;= -3.3295</text><text x="2005" y="91">&gt; -3.3295</text>
<text x="1109" y="207">&lt;= -1.1005</text><text x="1404" y="207">&gt; -1.1005</text><text x="2161" y="207">&lt;= 0.7865</text><text x="3554" y="207">&gt; 0.7865</text>
<text x="610" y="323">&lt;= -3.631</text><text x="706" y="323">&gt; -3.631</text><text x="1353" y="323">&lt;= 1.0065</text><text x="1467" y="323">&gt; 1.0065</text><text x="2099" y="323">&lt;= 0.15</text><text x="2210" y="323">&gt; 0.15</text><text x="4669" y="323">&lt;= -2.3305</text><text x="6076" y="323">&gt; -2.3305</text>
<text x="370" y="439">&lt;= 0.4185</text><text x="473" y="439">&gt; 0.4185</text><text x="666" y="439">&lt;= 1.9955</text><text x="774" y="439">&gt; 1.9955</text><text x="1155" y="439">&lt;= 0.566</text><text x="1299" y="439">&gt; 0.566</text><text x="1509" y="439">&lt;= 0.5325</text><text x="1630" y="439">&gt; 0.5325</text><text x="1934" y="439">&lt;= -0.1535</text><text x="2042" y="439">&gt; -0.1535</text><text x="2277" y="439">&lt;= 0.459</text><text x="2815" y="439">&gt; 0.459</text><text x="4618" y="439">&lt;= 2.0235</text><text x="4778" y="439">&gt; 2.0235</text><text x="7192" y="439">&lt;= 1.3015</text><text x="7328" y="439">&gt; 1.3015</text>
<text x="381" y="555">&lt;= 3.06</text><text x="471" y="555">&gt; 3.06</text><text x="818" y="555">&lt;= -4.2625</text><text x="961" y="555">&gt; -4.2625</text><text x="1308" y="555">&lt;= 0.0755</text><text x="1435" y="555">&gt; 0.0755</text><text x="1661" y="555">&lt;= 1.024</text><text x="1770" y="555">&gt; 1.024</text><text x="1934" y="555">&lt;= -1.003</text><text x="2031" y="555">&gt; -1.003</text><text x="2196" y="555">&lt;= -2.8705</text><text x="2311" y="555">&gt; -2.8705</text><text x="4441" y="555">&lt;= 1.031</text><text x="4542" y="555">&gt; 1.031</text><text x="4879" y="555">&lt;= -3.021</text><text x="5450" y="555">&gt; -3.021</text><text x="7168" y="555">&lt;= 0.405</text><text x="7268" y="555">&gt; 0.405</text><text x="7405" y="555">&lt;= -2.1655</text><text x="7512" y="555">&gt; -2.1655</text>
<text x="2666" y="555">= 0</text><text x="2779" y="555">= 1</text><text x="2888" y="555">= 2</text><text x="2994" y="555">= 3</text><text x="3082" y="555">= 4</text><text x="3142" y="555">= 5</text><text x="3197" y="555">= 6</text><text x="3257" y="555">= 7</text><text x="3326" y="555">= 8</text><text x="3415" y="555">= 9</text><text x="3524" y="555">= 10</text><text x="3643" y="555">= 11</text><text x="3766" y="555">= 12</text><text x="3889" y="555">= 13</text><text x="4010" y="555">= 14</text>
<text x="463" y="671">&lt;= -0.5865</text><text x="579" y="671">&gt; -0.5865</text><text x="896" y="671">&lt;= 2.827</text><text x="995" y="671">&gt; 2.827</text><text x="1197" y="671">&lt;= 1.2345</text><text x="1304" y="671">&gt; 1.2345</text><text x="1475" y="671">&lt;= 3.276</text><text x="1592" y="671">&gt; 3.276</text><text x="1798" y="671">&lt;= -0.157</text><text x="1984" y="671">&gt; -0.157</text><text x="2332" y="671">&lt;= 1.234</text><text x="2438" y="671">&gt; 1.234</text><text x="4137" y="671">&lt;= -0.7145</text><text x="4276" y="671">&gt; -0.7145</text><text x="4468" y="671">= 0</text><text x="4537" y="671">= 1</text><text x="4803" y="671">&lt;= -0.141</text><text x="4907" y="671">&gt; -0.141</text><text x="7155" y="671">&lt;= 1.2485</text><text x="7269" y="671">&gt; 1.2485</text>
<text x="5291" y="671">= 0</text><text x="5421" y="671">= 1</text><text x="5528" y="671">= 2</text><text x="5632" y="671">= 3</text><text x="5723" y="671">= 4</text><text x="5789" y="671">= 5</text><text x="5852" y="671">= 6</text><text x="5923" y="671">= 7</text><text x="5994" y="671">= 8</text><text x="6088" y="671">= 9</text><text x="6212" y="671">= 10</text><text x="6394" y="671">= 11</text><text x="6523" y="671">= 12</text><text x="6685" y="671">= 13</text><text x="6819" y="671">= 14</text>
<text x="135" y="787">&lt;= -4.836</text><text x="231" y="787">&gt; -4.836</text><text x="425" y="787">&lt;= 0.5495</text><text x="527" y="787">&gt; 0.5495</text><text x="759" y="787">&lt;= 0.6325</text><text x="862" y="787">&gt; 0.6325</text><text x="1048" y="787">&lt;= 4.198</text><text x="1158" y="787">&gt; 4.198</text><text x="1372" y="787">&lt;= 2.583</text><text x="1463" y="787">&gt; 2.583</text><text x="1616" y="787">&lt;= -0.195</text><text x="1722" y="787">&gt; -0.195</text><text x="1903" y="787">&lt;= -4.016</text><text x="2008" y="787">&gt; -4.016</text><text x="2177" y="787">&lt;= 0.3975</text><text x="2305" y="787">&gt; 0.3975</text><text x="3804" y="787">&lt;= 1.279</text><text x="3894" y="787">&gt; 1.279</text><text x="4138" y="787">&lt;= 0.6385</text><text x="4240" y="787">&gt; 0.6385</text><text x="4429" y="787">&lt;= -0.7385</text><text x="4552" y="787">&gt; -0.7385</text><text x="4694" y="787">&lt;= -0.298</text><text x="4800" y="787">&gt; -0.298</text><text x="4961" y="787">&lt;= -3.1315</text><text x="5077" y="787">&gt; -3.1315</text><text x="5768" y="787">&lt;= -0.0315</text><text x="5888" y="787">&gt; -0.0315</text><text x="6132" y="787">&lt;= 2.5485</text><text x="6233" y="787">&gt; 2.5485</text><text x="6397" y="787">&lt;= -2.8705</text><text x="6513" y="787">&gt; -2.8705</text><text x="6698" y="787">&lt;= 3.0275</text><text x="6810" y="787">&gt; 3.0275</text><text x="6978" y="787">&lt;= -2.97</text><text x="7081" y="787">&gt; -2.97</text>
<text x="143" y="903">&lt;= 4.25</text><text x="222" y="903">&gt; 4.25</text><text x="556" y="903">&lt;= 1.963</text><text x="682" y="903">&gt; 1.963</text><text x="875" y="903">&lt;= 0.2895</text><text x="989" y="903">&gt; 0.2895</text><text x="1121" y="903">&lt;= -0.2665</text><text x="1248" y="903">&gt; -0.2665</text><text x="1684" y="903">&lt;= -3.975</text><text x="1791" y="903">&gt; -3.975</text><text x="2066" y="903">&lt;= -0.1365</text><text x="2174" y="903">&gt; -0.1365</text><text x="2339" y="903">&lt;= 0.42</text><text x="2439" y="903">&gt; 0.42</text><text x="3804" y="903">&lt;= 0.224</text><text x="3894" y="903">&gt; 0.224</text><text x="4088" y="903">&lt;= 0.5875</text><text x="4204" y="903">&gt; 0.5875</text><text x="4380" y="903">&lt;= -0.858</text><text x="4483" y="903">&gt; -0.858</text><text x="5697" y="903">&lt;= -0.224</text><text x="5803" y="903">&gt; -0.224</text><text x="6442" y="903">&lt;= -2.502</text><text x="6542" y="903">&gt; -2.502</text><text x="6778" y="903">&lt;= -2.6145</text><text x="6892" y="903">&gt; -2.6145</text><text x="7048" y="903">&lt;= -2.7645</text><text x="7166" y="903">&gt; -2.7645</text>
<text x="269" y="1020">&lt;= -1.0345</text><text x="377" y="1020">&gt; -1.0345</text><text x="585" y="1020">&lt;= -3.7655</text><text x="694" y="1020">&gt; -3.7655</text><text x="840" y="1020">&lt;= -0.882</text><text x="941" y="1020">&gt; -0.882</text><text x="1043" y="1020">= 0</text><text x="1124" y="1020">= 1</text><text x="2280" y="1020">&lt;= 0.339</text><text x="2376" y="1020">&gt; 0.339</text><text x="3796" y="1020">&lt;= -0.0795</text><text x="3902" y="1020">&gt; -0.0795</text><text x="4089" y="1020">&lt;= -2.8995</text><text x="4220" y="1020">&gt; -2.8995</text>
<text x="462" y="1136">&lt;= 0.4865</text><text x="574" y="1136">&gt; 0.4865</text><text x="3616" y="1136">&lt;= -0.8335</text><text x="3724" y="1136">&gt; -0.8335</text><text x="3889" y="1136">&lt;= 1.806</text><text x="3989" y="1136">&gt; 1.806</text><text x="4263" y="1136">&lt;= -1.0225</text><text x="4388" y="1136">&gt; -1.0225</text>
<text x="394" y="1252">&lt;= -0.7445</text><text x="506" y="1252">&gt; -0.7445</text><text x="4410" y="1252">&lt;= 0.9935</text><text x="4533" y="1252">&gt; 0.9935</text>
<text x="2915" y="1252">= 0</text><text x="3022" y="1252">= 1</text><text x="3126" y="1252">= 2</text><text x="3223" y="1252">= 3</text><text x="3312" y="1252">= 4</text><text x="3386" y="1252">= 5</text><text x="3439" y="1252">= 6</text><text x="3491" y="1252">= 7</text><text x="3547" y="1252">= 8</text><text x="3624" y="1252">= 9</text><text x="3721" y="1252">= 10</text><text x="3835" y="1252">= 11</text><text x="3935" y="1252">= 12</text><text x="4045" y="1252">= 13</text><text x="4155" y="1252">= 14</text>
<text x="4528" y="1367">&lt;= 1.822</text><text x="4634" y="1367">&gt; 1.822</text>
<text x="4087" y="1483">= 0</text><text x="4191" y="1483">= 1</text><text x="4296" y="1483">= 2</text><text x="4392" y="1483">= 3</text><text x="4483" y="1483">= 4</text><text x="4559" y="1483">= 5</text><text x="4611" y="1483">= 6</text><text x="4659" y="1483">= 7</text><text x="4718" y="1483">= 8</text><text x="4795" y="1483">= 9</text><text x="4892" y="1483">= 10</text><text x="4995" y="1483">= 11</text><text x="5103" y="1483">= 12</text><text x="5213" y="1483">= 13</text><text x="5324" y="1483">= 14</text>
</g>
</svg>
</body></html>
